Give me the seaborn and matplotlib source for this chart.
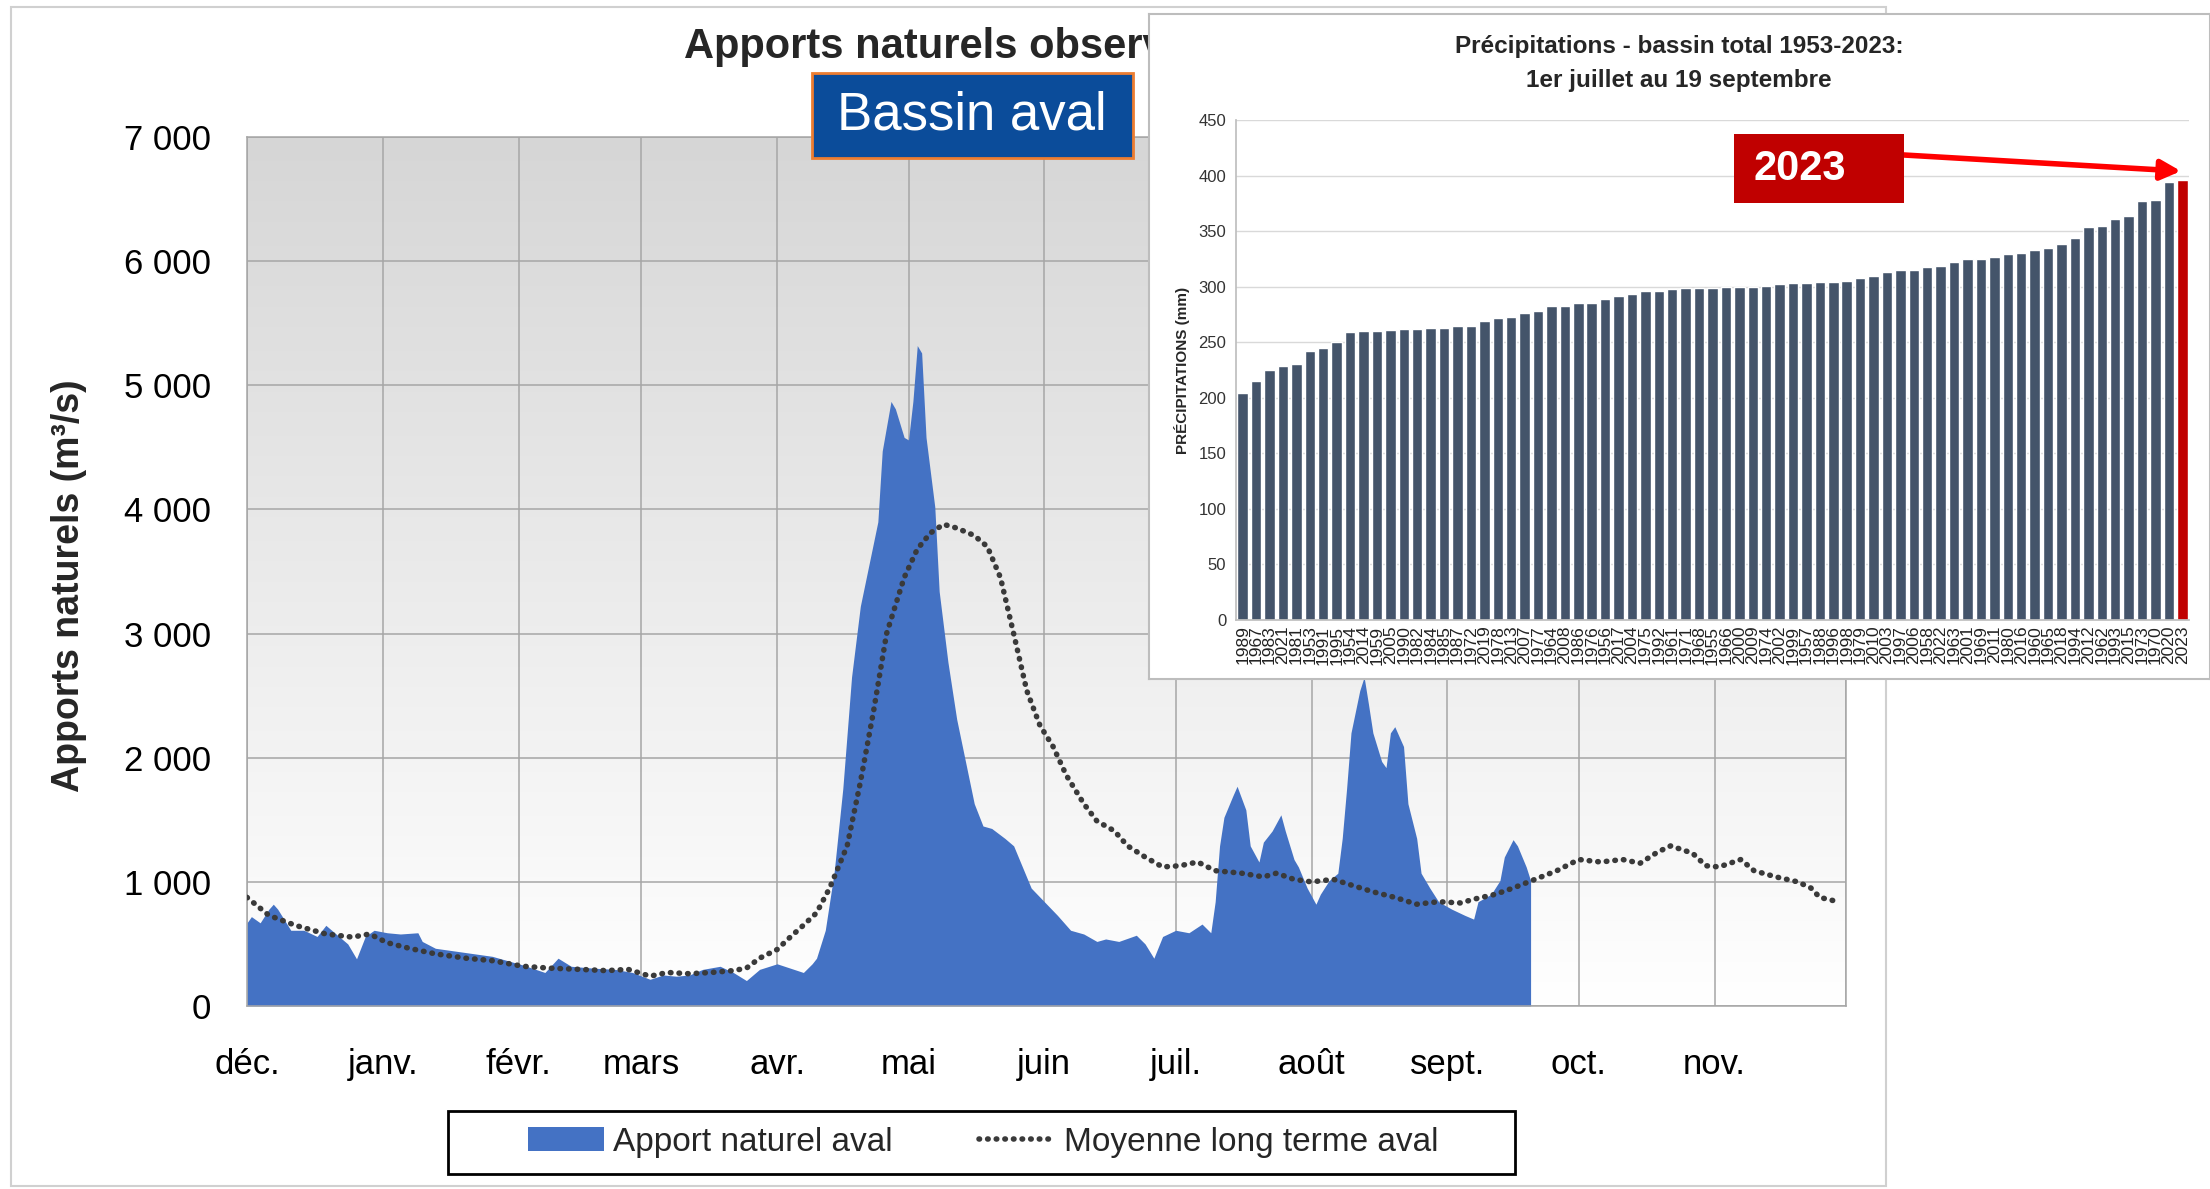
import matplotlib
matplotlib.use('Agg')
import numpy as np
import pandas as pd
import matplotlib.pyplot as plt
from matplotlib.patches import Rectangle, Patch
from matplotlib.lines import Line2D
from matplotlib.colors import LinearSegmentedColormap
from matplotlib.ticker import FuncFormatter
import seaborn as sns

#%% data - main chart (day 0 = 1er décembre)
apport_days = [0, 1, 3, 5, 6, 7, 10, 13, 16, 18, 21, 23, 25, 27, 29, 32, 35, 39, 40, 43,
               50, 56, 63, 68, 71, 74, 79, 84, 88, 92, 95, 98, 101, 104, 108, 111, 114, 117, 121, 124,
               127, 129, 130, 132, 134, 136, 138, 140, 142, 144, 145, 147, 148, 150, 151, 152, 153, 154, 155, 157,
               158, 160, 162, 164, 166, 168, 170, 173, 175, 177, 179, 182, 185, 188, 191, 194, 196, 199, 203, 205,
               207, 209, 212, 215, 218, 220, 221, 222, 223, 225, 226, 228, 229, 231, 232, 234, 236, 237, 239, 240,
               242, 244, 245, 247, 249, 250, 251, 252, 254, 255, 256, 257, 259, 260, 261, 262, 264, 265, 267, 268,
               270, 272, 275, 278, 280, 281, 284, 286, 287, 289, 290, 292, 293]
apport_vals = [670, 720, 670, 780, 820, 780, 610, 610, 560, 650, 560, 500, 380, 560, 610, 590, 580, 590, 520, 465,
               430, 400, 330, 270, 385, 320, 305, 295, 270, 215, 250, 240, 250, 295, 320, 270, 205, 295, 340, 305,
               270, 340, 385, 610, 1070, 1750, 2650, 3220, 3560, 3900, 4470, 4870, 4810, 4580, 4560, 4870, 5320, 5260, 4580, 4020,
               3340, 2770, 2310, 1970, 1630, 1450, 1430, 1350, 1290, 1120, 950, 840, 730, 610, 580, 520, 540, 520, 570, 500,
               385, 560, 610, 590, 660, 590, 840, 1290, 1520, 1690, 1770, 1580, 1290, 1160, 1320, 1410, 1540, 1410, 1180, 1120,
               950, 820, 900, 1010, 1070, 1350, 1750, 2200, 2540, 2650, 2430, 2200, 1970, 1920, 2200, 2250, 2090, 1630, 1350, 1070,
               950, 840, 780, 730, 700, 840, 900, 1010, 1200, 1340, 1290, 1120, 1010]

moy_days = [0, 5, 11, 18, 24, 28, 32, 37, 43, 50, 56, 63, 69, 76, 82, 87, 92, 96, 101, 106,
            111, 114, 117, 121, 124, 127, 130, 133, 137, 140, 143, 146, 150, 153, 156, 159, 162, 166, 169, 172,
            175, 178, 181, 184, 187, 191, 194, 198, 201, 205, 209, 213, 217, 221, 227, 232, 235, 239, 243, 248,
            252, 257, 262, 267, 272, 277, 280, 285, 289, 294, 299, 304, 309, 314, 318, 322, 325, 330, 333, 336,
            341, 344, 349, 354, 357, 359, 362]
moy_vals = [875, 730, 650, 580, 555, 580, 510, 465, 420, 385, 365, 320, 305, 295, 285, 295, 240, 270, 260, 270,
            285, 305, 385, 455, 555, 650, 750, 950, 1290, 1800, 2370, 3000, 3450, 3680, 3810, 3880, 3850, 3790, 3700, 3450,
            3000, 2540, 2260, 2090, 1860, 1630, 1490, 1410, 1290, 1200, 1120, 1130, 1160, 1090, 1070, 1040, 1070, 1020, 1000, 1020,
            975, 920, 875, 820, 840, 830, 860, 900, 950, 1020, 1090, 1180, 1160, 1180, 1150, 1240, 1290, 1230, 1130, 1120,
            1180, 1090, 1040, 1000, 950, 875, 850]

month_starts = [0, 31, 62, 90, 121, 151, 182, 212, 243, 274, 304, 335, 365]
month_labels = ['déc.', 'janv.', 'févr.', 'mars', 'avr.', 'mai', 'juin', 'juil.', 'août', 'sept.', 'oct.', 'nov.', '']

#%% data - inset (précipitations 1er juillet au 19 septembre, triées)
precip_years = [1989, 1967, 1983, 2021, 1981, 1953, 1991, 1995, 1954, 2014,
                1959, 2005, 1990, 1982, 1984, 1985, 1987, 1972, 2019, 1978,
                2013, 2007, 1977, 1964, 2008, 1986, 1976, 1956, 2017, 2004,
                1975, 1992, 1961, 1971, 1968, 1955, 1966, 2000, 2009, 1974,
                2002, 1999, 1957, 1988, 1996, 1998, 1979, 2010, 2003, 1997,
                2006, 1958, 2022, 1963, 2001, 1969, 2011, 1980, 2016, 1960,
                1965, 2018, 1994, 2012, 1962, 1993, 2015, 1973, 1970, 2020, 2023]
precip_mm = [204, 215, 225, 229, 230, 242, 245, 250, 259, 260,
             260, 261, 262, 262, 263, 263, 265, 265, 269, 272,
             273, 276, 278, 283, 283, 285, 285, 289, 292, 293,
             296, 296, 298, 299, 299, 299, 300, 300, 300, 301,
             302, 303, 303, 304, 304, 305, 308, 310, 313, 315,
             315, 318, 319, 322, 325, 325, 327, 329, 330, 333,
             335, 338, 344, 354, 355, 361, 364, 377, 378, 394, 396]

#%% style
sns.set_theme(style='white')
plt.rcParams['font.family'] = ['Liberation Sans', 'DejaVu Sans']

W, H = 2210, 1189
fx = lambda px: px / W
fy = lambda py: 1 - py / H

fig = plt.figure(figsize=(W / 100, H / 100), dpi=100)
fig.patch.set_facecolor('white')

blue = '#4472C4'
dot_style = dict(color='#3a3a3a', linewidth=4.0, linestyle=(0, (0.1, 1.45)), dash_capstyle='round')

#%% main chart
ax = fig.add_axes([fx(247), fy(1006), fx(1846) - fx(247), fy(137) - fy(1006)])
grad = np.linspace(0, 1, 256).reshape(-1, 1)
ax.imshow(grad, extent=[0, 365, 0, 7000], origin='upper', aspect='auto',
          cmap=LinearSegmentedColormap.from_list('bg', ['#d6d6d6', '#ffffff']), zorder=0)

ax.fill_between(apport_days, apport_vals, 0, color=blue, lw=0, zorder=2)
sns.lineplot(x=moy_days, y=moy_vals, ax=ax, zorder=3, **dot_style)

ax.set_xlim(0, 365)
ax.set_ylim(0, 7000)
ax.set_xticks(month_starts)
ax.set_xticklabels(month_labels)
ax.set_yticks(range(0, 7001, 1000))
ax.yaxis.set_major_formatter(FuncFormatter(lambda v, _: f'{int(v):,}'.replace(',', ' ')))
ax.grid(True, color='#a6a6a6', lw=1.1)
ax.set_axisbelow(True)
ax.tick_params(axis='both', length=0, labelsize=25, colors='black')
ax.tick_params(axis='x', pad=30)
ax.tick_params(axis='y', pad=26)
for s in ax.spines.values():
    s.set_color('#a6a6a6')
    s.set_linewidth(1.1)
ax.set_xlabel('')
ax.set_ylabel('Apports naturels (m³/s)', fontsize=27, fontweight='bold')
ax.yaxis.set_label_coords(-0.100, 0.484)

fig.text(fx(684), fy(47), 'Apports naturels observés', ha='left', va='center',
         fontsize=30, fontweight='bold', zorder=0.5)

# encadré "Bassin aval"
fig.add_artist(Rectangle((fx(812), fy(158)), fx(321), 85 / H, transform=fig.transFigure,
                         facecolor='#0B4C9A', edgecolor='#ED7D31', lw=2, zorder=3))
fig.text(fx(972), fy(116), 'Bassin aval', ha='center', va='center', color='white',
         fontsize=38, zorder=4)

# legend
handles = [Patch(facecolor=blue, edgecolor='none'), Line2D([], [], **dot_style)]
fig.legend(handles, ['Apport naturel aval', 'Moyenne long terme aval'], loc='center',
           bbox_to_anchor=(fx(983), fy(1142)), ncol=2, frameon=False, fontsize=24,
           handlelength=2.3, handletextpad=0.25, columnspacing=2.6)
fig.add_artist(Rectangle((fx(448), fy(1174)), fx(1067), 63 / H, transform=fig.transFigure,
                         fill=False, edgecolor='black', lw=2))

# cadre gris autour du graphique principal
fig.add_artist(Rectangle((fx(11), fy(1186)), fx(1875), 1179 / H, transform=fig.transFigure,
                         fill=False, edgecolor='#d0d0d0', lw=1.5, zorder=0.2))

#%% inset panel
pan = fig.add_axes([fx(1149), fy(679), fx(1061), 665 / H])
pan.set_zorder(5)
pan.set_facecolor('white')
pan.set_xticks([])
pan.set_yticks([])
for s in pan.spines.values():
    s.set_color('#bdbdbd')
    s.set_linewidth(1.5)

ax2 = fig.add_axes([fx(1236), fy(620), fx(953), 500 / H])
ax2.set_zorder(6)
ax2.patch.set_alpha(0)

df = pd.DataFrame({'annee': [str(y) for y in precip_years], 'mm': precip_mm})
pal = {str(y): ('#C00000' if y == 2023 else '#44546A') for y in precip_years}
sns.barplot(data=df, x='annee', y='mm', hue='annee', palette=pal, legend=False,
            width=0.78, saturation=1, errorbar=None, ax=ax2)

ax2.set_xlim(-0.5, len(precip_years) - 0.5)
ax2.set_ylim(0, 450)
ax2.set_yticks(range(0, 451, 50))
ax2.grid(True, axis='y', color='#d9d9d9', lw=1)
ax2.set_axisbelow(True)
ax2.tick_params(axis='x', labelrotation=90, labelsize=12.5, length=0, pad=4, colors='#222222')
ax2.tick_params(axis='y', labelsize=12, length=0, pad=7, colors='#333333')
for side in ['top', 'right']:
    ax2.spines[side].set_visible(False)
for side in ['left', 'bottom']:
    ax2.spines[side].set_color('#bfbfbf')
ax2.set_xlabel('')
ax2.set_ylabel('PRÉCIPITATIONS (mm)', fontsize=11, fontweight='bold')
ax2.yaxis.set_label_coords(-0.048, 0.5)

fig.text(fx(1679), fy(46), 'Précipitations - bassin total 1953-2023:', ha='center', va='center',
         fontsize=17.5, fontweight='bold', zorder=7)
fig.text(fx(1679), fy(81), '1er juillet au 19 septembre', ha='center', va='center',
         fontsize=17.5, fontweight='bold', zorder=7)

# étiquette 2023 + flèche
fig.add_artist(Rectangle((fx(1734), fy(203)), fx(170), 69 / H, transform=fig.transFigure,
                         facecolor='#C00000', edgecolor='none', zorder=8))
fig.text(fx(1800), fy(169), '2023', ha='center', va='center', color='white',
         fontsize=30, fontweight='bold', zorder=9)
ax2.annotate('', xy=(len(precip_years) - 1.1, 404), xycoords='data',
             xytext=(fx(1904), fy(155)), textcoords='figure fraction',
             arrowprops=dict(arrowstyle='-|>', color='#FF0000', lw=4, mutation_scale=30,
                             shrinkA=0, shrinkB=0), zorder=9)

fig.savefig('out.png', dpi=100)
